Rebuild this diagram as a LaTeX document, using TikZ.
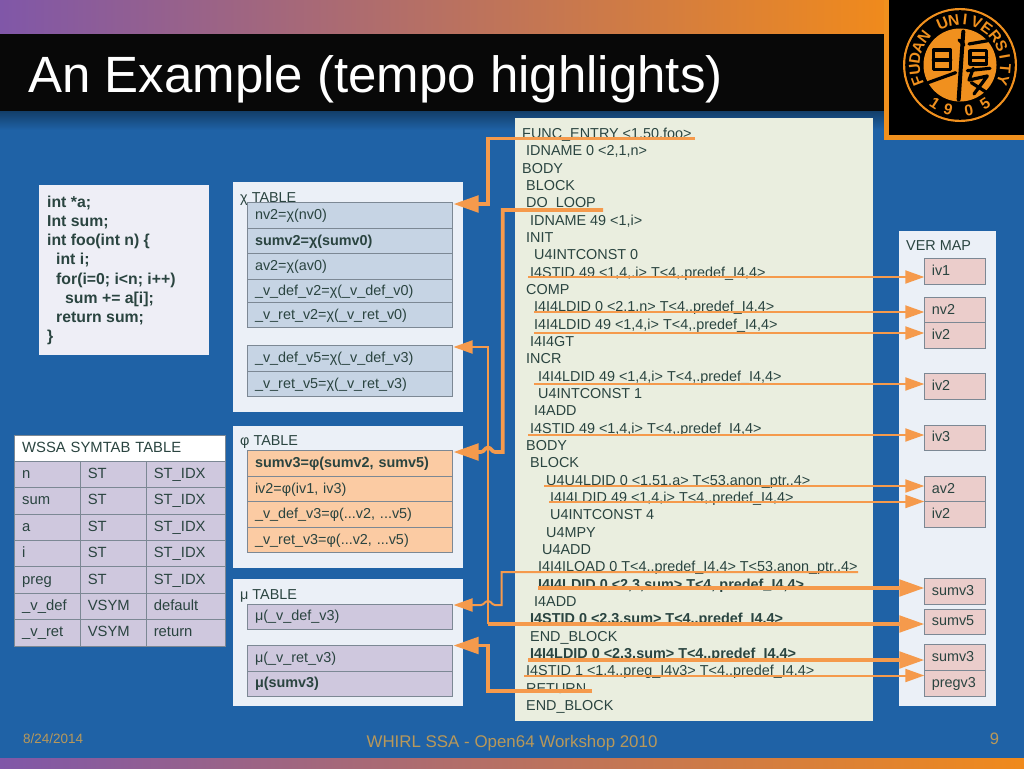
\documentclass[tikz,border=0pt]{standalone}
\usepackage{fontspec}
\setmainfont{Liberation Sans}
\usetikzlibrary{arrows.meta}
\definecolor{bgblue}{HTML}{1F62A6}
\definecolor{bgdark}{HTML}{123C66}
\definecolor{gradA}{HTML}{8057A8}
\definecolor{gradB}{HTML}{F08A1C}
\definecolor{logoor}{HTML}{F0901E}
\definecolor{panel}{HTML}{EBF0F7}
\definecolor{codebg}{HTML}{EAEEDF}
\definecolor{srcbg}{HTML}{EEEEF6}
\definecolor{inkc}{HTML}{2A4440}
\definecolor{cellline}{HTML}{7C8894}
\definecolor{chic}{HTML}{C6D4E4}
\definecolor{phic}{HTML}{FBCBA3}
\definecolor{muc}{HTML}{CFC8DE}
\definecolor{verc}{HTML}{EBCDCB}
\definecolor{arrowc}{HTML}{F59A4C}
\definecolor{footc}{HTML}{B8985A}
\tikzset{
  txt/.style={inner sep=0pt,anchor=base west,text=inkc,font=\fontsize{14.4}{16}\selectfont},
  srctxt/.style={inner sep=0pt,anchor=base west,text=inkc,font=\fontsize{15.8}{18}\selectfont\bfseries},
  cellbox/.style={draw=cellline,line width=0.9pt,outer sep=0pt,anchor=north west,inner ysep=0pt,inner xsep=7.5pt,align=left,text=inkc,
     font=\fontsize{14.4}{16}\selectfont,text height=10.5pt,text depth=2.1pt},
  symfont/.style={font=\fontsize{14.8}{16}\selectfont},
  linkthin/.style={draw=arrowc,line width=2pt,-{Triangle[length=19pt,width=13pt,fill=arrowc]}},
  linkbig/.style={draw=arrowc,line width=3.6pt,-{Triangle[length=25pt,width=16.5pt,fill=arrowc]}},
  logot/.style={inner sep=0pt,text=logoor,font=\fontsize{15.5}{15.5}\selectfont\bfseries},
  foot/.style={inner sep=0pt,text=footc,font=\fontsize{13.5}{16}\selectfont},
  glyph/.style={draw=black,line width=3.2pt,line cap=round,line join=round}
}
% #1 name, #2 fill, #3 x1, #4 y1, #5 x2, #6 y2, #7 text
\newcommand\cellat[7]{%
  \pgfmathsetmacro\cw{#5-#3}\pgfmathsetmacro\ch{#6-#4}\pgfmathsetmacro\tw{#5-#3-15}%
  \node[cellbox,fill=#2,minimum width=\cw pt,minimum height=\ch pt,text width=\tw pt] (#1) at (#3,#4) {#7};}
% symbol table cell
\newcommand\symcell[7]{%
  \pgfmathsetmacro\cw{#5-#3}\pgfmathsetmacro\ch{#6-#4}\pgfmathsetmacro\tw{#5-#3-15}%
  \node[cellbox,symfont,fill=#2,minimum width=\cw pt,minimum height=\ch pt,text width=\tw pt] (#1) at (#3,#4) {#7};}
% code line: #1 name, #2 line index, #3 x, #4 text
\newcommand\codeline[4]{%
  \pgfmathsetmacro\ly{138.4+(#2-1)*17.34}%
  \node[txt] (#1) at (#3,\ly) {#4};}
\begin{document}
\begin{tikzpicture}[x=1pt,y=-1pt]
\useasboundingbox (0,0) rectangle (1024,768);
% background
\fill[bgblue] (0,0) rectangle (1024,768);
\shade[top color=bgdark,bottom color=bgblue,draw=none] (0,110) rectangle (884,130);
\shade[left color=gradA,right color=gradB,draw=none] (0,0) rectangle (884,35);
\shade[left color=gradA,right color=gradB,draw=none] (0,758) rectangle (1024,768);
\fill[black!97] (0,34) rectangle (884,110.5);
\fill[logoor] (884,0) rectangle (1024,140);
\fill[black] (889,0) rectangle (1024,135);
\node[inner sep=0pt,anchor=base west,text=white,font=\fontsize{51}{51}\selectfont] (title) at (28,92) {An Example (tempo highlights)};
% logo
\fill[logoor] (960,65) circle (57);
\fill[black] (960,65) circle (54.8);
\fill[logoor] (960,65) circle (36.5);
\foreach \ch/\ang [count=\i] in {F/201,U/186.3,D/171.6,A/156.9,N/142.2,U/112.8,N/98.1,I/83.4,V/68.7,E/54,R/39.3,S/24.6,I/9.9,T/-4.8,Y/-19.5}{
  \pgfmathsetmacro\lx{960+45.5*cos(\ang)}\pgfmathsetmacro\lyy{65-45.5*sin(\ang)}\pgfmathsetmacro\lr{\ang-90}
  \node[logot,rotate=\lr] (lg\i) at (\lx,\lyy) {\ch};
}
\foreach \ch/\ang [count=\i] in {1/237,9/255,0/281,5/303}{
  \pgfmathsetmacro\lx{960+46*cos(\ang)}\pgfmathsetmacro\lyy{65-46*sin(\ang)}\pgfmathsetmacro\lr{\ang+90}
  \node[logot,rotate=\lr] (yr\i) at (\lx,\lyy) {\ch};
}
% logo character
\begin{scope}[shift={(884,0)},x=0.3333pt,y=-0.3333pt]
\draw[glyph] (148,150) rectangle (200,208);
\draw[glyph] (148,180) -- (200,180);
\draw[glyph] (132,248) -- (215,218);
\draw[glyph,line width=4pt] (238,95) -- (234,150) -- (224,298);
\draw[glyph] (225,120) -- (240,135);
\draw[glyph] (255,132) -- (312,122);
\draw[glyph] (258,152) rectangle (308,192);
\draw[glyph] (258,172) -- (308,172);
\draw[glyph] (250,212) -- (318,205);
\draw[glyph] (268,205) -- (255,240) -- (310,228) -- (270,282);
\draw[glyph] (262,248) -- (320,285);
\end{scope}
% source box
\fill[srcbg] (39,185) rectangle (209,355);
\node[srctxt] (src1) at (47,207) {int *a;};
\node[srctxt] (src2) at (47,226) {Int sum;};
\node[srctxt] (src3) at (47,245) {int foo(int n) \{};
\node[srctxt] (src4) at (56,264) {int i;};
\node[srctxt] (src5) at (56,284) {for(i=0; i<n; i++)};
\node[srctxt] (src6) at (65,303) {sum += a[i];};
\node[srctxt] (src7) at (56,322) {return sum;};
\node[srctxt] (src8) at (47,341) {\}};
% symtab
\symcell{symh}{white}{14.7}{435}{225.5}{461}{WSSA SYMTAB TABLE}
\foreach \a/\b/\c/\ya/\yb [count=\r] in {n/ST/ST\_IDX/461/487.5,sum/ST/ST\_IDX/487.5/514,a/ST/ST\_IDX/514/540.5,i/ST/ST\_IDX/540.5/566.5,preg/ST/ST\_IDX/566.5/593.5,\_v\_def/VSYM/default/593.5/619.5,\_v\_ret/VSYM/return/619.5/646}{
  \symcell{sya\r}{muc}{14.7}{\ya}{80.3}{\yb}{\a}
  \symcell{syb\r}{muc}{80.3}{\ya}{146.3}{\yb}{\b}
  \symcell{syc\r}{muc}{146.3}{\ya}{225.5}{\yb}{\c}
}
% chi panel
\fill[panel] (232.5,182) rectangle (462.7,412);
\node[txt] (chit) at (240,202.7) {χ TABLE};
\cellat{chi1}{chic}{247.5}{202.5}{452.5}{228.5}{nv2=χ(nv0)}
\cellat{chi2}{chic}{247.5}{228.5}{452.5}{253.5}{\textbf{sumv2=χ(sumv0)}}
\cellat{chi3}{chic}{247.5}{253.5}{452.5}{279.5}{av2=χ(av0)}
\cellat{chi4}{chic}{247.5}{279.5}{452.5}{302.5}{\_v\_def\_v2=χ(\_v\_def\_v0)}
\cellat{chi5}{chic}{247.5}{302.5}{452.5}{327.5}{\_v\_ret\_v2=χ(\_v\_ret\_v0)}
\cellat{chi6}{chic}{247.5}{345.5}{452.5}{371.5}{\_v\_def\_v5=χ(\_v\_def\_v3)}
\cellat{chi7}{chic}{247.5}{371.5}{452.5}{396.5}{\_v\_ret\_v5=χ(\_v\_ret\_v3)}
% phi panel
\fill[panel] (232.5,425.5) rectangle (462.7,567.5);
\node[txt] (phit) at (240,445.7) {φ TABLE};
\cellat{phi1}{phic}{247.5}{450.5}{452.5}{476.5}{\textbf{sumv3=φ(sumv2, sumv5)}}
\cellat{phi2}{phic}{247.5}{476.5}{452.5}{501.5}{iv2=φ(iv1, iv3)}
\cellat{phi3}{phic}{247.5}{501.5}{452.5}{527.5}{\_v\_def\_v3=φ(...v2, ...v5)}
\cellat{phi4}{phic}{247.5}{527.5}{452.5}{552.5}{\_v\_ret\_v3=φ(...v2, ...v5)}
% mu panel
\fill[panel] (232.5,579) rectangle (462.7,705.7);
\node[txt] (mut) at (240,599) {μ TABLE};
\cellat{mu1}{muc}{247.5}{604}{452.5}{629.5}{μ(\_v\_def\_v3)}
\cellat{mu2}{muc}{247.5}{645}{452.5}{671}{μ(\_v\_ret\_v3)}
\cellat{mu3}{muc}{247.5}{671}{452.5}{696.5}{\textbf{μ(sumv3)}}
% ver map
\fill[panel] (899,231) rectangle (996,706);
\node[txt] (vert) at (906,250.7) {VER MAP};
\cellat{v1}{verc}{924.3}{258.5}{985.7}{284.5}{iv1}
\cellat{v2}{verc}{924.3}{297.5}{985.7}{322.5}{nv2}
\cellat{v3}{verc}{924.3}{322.5}{985.7}{348}{iv2}
\cellat{v4}{verc}{924.3}{373.5}{985.7}{399.5}{iv2}
\cellat{v5}{verc}{924.3}{425}{985.7}{450.5}{iv3}
\cellat{v6}{verc}{924.3}{476.5}{985.7}{501.5}{av2}
\cellat{v7}{verc}{924.3}{501.5}{985.7}{527.5}{iv2}
\cellat{v8}{verc}{924.3}{578.5}{985.7}{604.5}{sumv3}
\cellat{v9}{verc}{924.3}{609}{985.7}{634.5}{sumv5}
\cellat{v10}{verc}{924.3}{644.5}{985.7}{670}{sumv3}
\cellat{v11}{verc}{924.3}{670}{985.7}{696.5}{pregv3}
% code panel
\fill[codebg] (515,118) rectangle (873,721);
\codeline{c1}{1}{522}{FUNC\_ENTRY <1,50,foo>}
\codeline{c2}{2}{526}{IDNAME 0 <2,1,n>}
\codeline{c3}{3}{522}{BODY}
\codeline{c4}{4}{526}{BLOCK}
\codeline{c5}{5}{526}{DO\_LOOP}
\codeline{c6}{6}{530}{IDNAME 49 <1,i>}
\codeline{c7}{7}{526}{INIT}
\codeline{c8}{8}{534}{U4INTCONST 0}
\codeline{c9}{9}{530}{I4STID 49 <1,4,.i> T<4,.predef\_I4,4>}
\codeline{c10}{10}{526}{COMP}
\codeline{c11}{11}{534}{I4I4LDID 0 <2,1,n> T<4,.predef\_I4,4>}
\codeline{c12}{12}{534}{I4I4LDID 49 <1,4,i> T<4,.predef\_I4,4>}
\codeline{c13}{13}{530}{I4I4GT}
\codeline{c14}{14}{526}{INCR}
\codeline{c15}{15}{538}{I4I4LDID 49 <1,4,i> T<4,.predef\_I4,4>}
\codeline{c16}{16}{538}{U4INTCONST 1}
\codeline{c17}{17}{534}{I4ADD}
\codeline{c18}{18}{530}{I4STID 49 <1,4,i> T<4,.predef\_I4,4>}
\codeline{c19}{19}{526}{BODY}
\codeline{c20}{20}{530}{BLOCK}
\codeline{c21}{21}{546}{U4U4LDID 0 <1,51,a> T<53,anon\_ptr,.4>}
\codeline{c22}{22}{550}{I4I4LDID 49 <1,4,i> T<4,.predef\_I4,4>}
\codeline{c23}{23}{550}{U4INTCONST 4}
\codeline{c24}{24}{546}{U4MPY}
\codeline{c25}{25}{542}{U4ADD}
\codeline{c26}{26}{538}{I4I4ILOAD 0 T<4,.predef\_I4,4> T<53,anon\_ptr,.4>}
\codeline{c27}{27}{538}{\textbf{I4I4LDID 0 <2,3,sum> T<4,.predef\_I4,4>}}
\codeline{c28}{28}{534}{I4ADD}
\codeline{c29}{29}{530}{\textbf{I4STID 0 <2,3,sum> T<4,.predef\_I4,4>}}
\codeline{c30}{30}{530}{END\_BLOCK}
\codeline{c31}{31}{530}{\textbf{I4I4LDID 0 <2,3,sum> T<4,.predef\_I4,4>}}
\codeline{c32}{32}{526}{I4STID 1 <1,4,.preg\_I4v3> T<4,.predef\_I4,4>}
\codeline{c33}{33}{526}{RETURN}
\codeline{c34}{34}{526}{END\_BLOCK}
% connector start points
\coordinate (s1) at (695,138.5);
\coordinate (s5) at (603,210);
\coordinate (s26) at (858,572);
\coordinate (s33) at (592,691);
\coordinate (r9) at (528,277);
\coordinate (r11) at (534,312);
\coordinate (r12) at (534,333);
\coordinate (r15) at (534,384);
\coordinate (r18) at (528,435);
\coordinate (r21) at (544,486);
\coordinate (r22) at (549,501.5);
\coordinate (r27) at (538,588);
\coordinate (r29) at (488,624);
\coordinate (r31) at (528,660);
\coordinate (r32) at (524,675.5);
% arrow tips on the tables
\coordinate (t1) at (453.5,204);
\coordinate (t2) at (453.5,347);
\coordinate (t3) at (453.5,452);
\coordinate (t4) at (453.5,605);
\coordinate (t5) at (453.5,645.5);
% connectors to the tables
\draw[linkbig] (s1) -- (488,138.5) -- (488,204) -- (t1);
\draw[linkthin] (r29) -- (488,347) -- (t2);
\draw[linkbig] (s5) -- (502.7,210) -- (502.7,452) -- (495,452) .. controls (492,452) and (491,447.5) .. (488,447.5) .. controls (485,447.5) and (484,452) .. (481,452) -- (t3);
\draw[linkthin] (s26) -- (501.7,572) -- (501.7,605) -- (495,605) .. controls (492,605) and (491,601) .. (488,601) .. controls (485,601) and (484,605) .. (481,605) -- (t4);
\draw[linkbig] (s33) -- (488,691) -- (488,645.5) -- (t5);
% connectors to the version map
\draw[linkthin] (r9) -- (v1.west |- r9);
\draw[linkthin] (r11) -- (v2.west |- r11);
\draw[linkthin] (r12) -- (v3.west |- r12);
\draw[linkthin] (r15) -- (v4.west |- r15);
\draw[linkthin] (r18) -- (v5.west |- r18);
\draw[linkthin] (r21) -- (v6.west |- r21);
\draw[linkthin] (r22) -- (v7.west |- r22);
\draw[linkbig] (r27) -- (v8.west |- r27);
\draw[linkbig] (r29) -- (v9.west |- r29);
\draw[linkbig] (r31) -- (v10.west |- r31);
\draw[linkthin] (r32) -- (v11.west |- r32);
% footer
\node[foot,anchor=base west] (fdate) at (23,743) {8/24/2014};
\node[foot,anchor=base,font=\fontsize{16.9}{18}\selectfont] (ftitle) at (512,747) {WHIRL SSA - Open64 Workshop 2010};
\node[foot,anchor=base,font=\fontsize{16.5}{18}\selectfont] (fpage) at (994.5,744) {9};
\end{tikzpicture}
\end{document}
